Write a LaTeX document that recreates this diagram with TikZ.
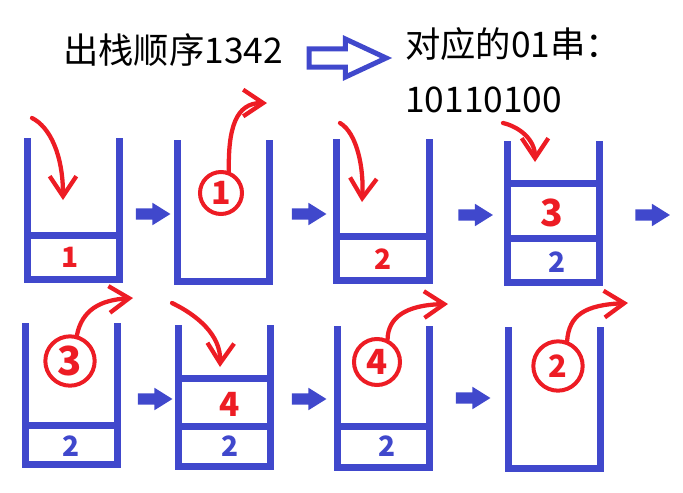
\documentclass[tikz,border=0pt]{standalone}
\usepackage{fontspec}
\setmainfont{Noto Sans CJK SC}
\usepackage{tikz}
\usetikzlibrary{shapes.arrows,arrows.meta}

\definecolor{stackblue}{RGB}{64,72,204}
\definecolor{penred}{RGB}{237,28,36}

\begin{document}
\begin{tikzpicture}[
    x=0.75pt, y=-0.75pt,
    wall/.style={line width=5.25pt, stackblue},
    title/.style={inner sep=0pt, anchor=base west, font=\fontsize{26.5}{30}\selectfont},
    digit/.style={inner sep=0pt, font=\fontsize{21}{24}\selectfont\bfseries},
    bigdigit/.style={inner sep=0pt, font=\fontsize{28}{30}\selectfont\bfseries},
    reddigit/.style={digit, penred},
    bluedigit/.style={digit, stackblue},
    ring/.style={circle, draw=penred, line width=3pt, text=penred, inner sep=0pt},
    pen/.style={penred, line width=3.2pt, line cap=round, line join=round,
        -{Straight Barb[length=15pt, width=20pt]}},
    push/.style={single arrow, fill=stackblue, inner sep=0pt, inner ysep=4.1pt,
        minimum height=26pt, single arrow head extend=4.1pt, single arrow tip angle=64},
    implies/.style={single arrow, draw=stackblue, line width=3.75pt, inner sep=0pt,
        inner ysep=4.9pt, minimum height=57.75pt, single arrow head extend=7.5pt,
        single arrow tip angle=50}
]
    \useasboundingbox (0,0) rectangle (683,493);

    % Heading: pop order and its 01 string
    \node[title] (order) at (63,63) {出栈顺序1342};
    \node[implies] (gives) at (338,58) {};
    \node[title] (caption) at (405,57) {对应的01串：};
    \node[title] (bits) at (405,112) {10110100};

    % First row of stacks
    \draw[wall] (27.5,138) |- (119.5,279) -- (119.5,138);
    \draw[wall] (27.5,235) -- (119.5,235);
    \node[reddigit] (s1a) at (70,257) {1};

    \draw[wall] (177.5,140) |- (269.5,281) -- (269.5,140);

    \draw[wall] (336.5,139) |- (429,280) -- (429,139);
    \draw[wall] (336.5,236) -- (429,236);
    \node[reddigit] (s3a) at (383,259) {2};

    \draw[wall] (507.5,141) |- (599.5,282.5) -- (599.5,141);
    \draw[wall] (507.5,183) -- (599.5,183);
    \draw[wall] (507.5,238) -- (599.5,238);
    \node[reddigit, bigdigit] (s4b) at (552,213) {3};
    \node[bluedigit] (s4a) at (557,262) {2};

    % Second row of stacks
    \draw[wall] (25.5,323) |- (117.5,464.5) -- (117.5,323);
    \draw[wall] (25.5,425) -- (117.5,425);
    \node[bluedigit] (s5a) at (71,446) {2};

    \draw[wall] (178.5,325) |- (270.5,466.5) -- (270.5,325);
    \draw[wall] (178.5,378.5) -- (270.5,378.5);
    \draw[wall] (178.5,426) -- (270.5,426);
    \node[reddigit, font=\fontsize{25}{28}\selectfont\bfseries] (s6b) at (230,404) {4};
    \node[bluedigit] (s6a) at (230,446) {2};

    \draw[wall] (337.5,326) |- (429.5,467.5) -- (429.5,326);
    \draw[wall] (337.5,426.5) -- (429.5,426.5);
    \node[bluedigit] (s7a) at (387,446) {2};

    \draw[wall] (508.5,327) |- (600.5,468.5) -- (600.5,327);

    % Steps between stacks
    \node[push] (p1) at (148.5,214) {};
    \node[push] (p2) at (304.5,214) {};
    \node[push] (p3) at (471,215) {};
    \node[push] (p4) at (648,215) {};
    \node[push] (p5) at (150.5,399) {};
    \node[push] (p6) at (304.5,399) {};
    \node[push] (p7) at (468.5,398) {};

    % Pushes - red arrows dropping in
    \coordinate (in1) at (32,118);
    \coordinate (drop1) at (63,200);
    \draw[pen] (in1) .. controls (50,127) and (63,155) .. (drop1);

    \coordinate (in2) at (340,123);
    \coordinate (drop2) at (362,202);
    \draw[pen] (in2) .. controls (357,133) and (364,168) .. (drop2);

    \coordinate (in3) at (503,123);
    \coordinate (drop3) at (535,162);
    \draw[pen] (in3) .. controls (520,127) and (535,140) .. (drop3);

    \coordinate (in4) at (172,303);
    \coordinate (drop4) at (220,367);
    \draw[pen] (in4) .. controls (197,315) and (221,335) .. (drop4);

    % Pops - circled number leaves the stack
    \node[ring, minimum size=31.5pt, font=\fontsize{24}{26}\selectfont\bfseries] (out1) at (221,193) {1};
    \coordinate (up1) at (267,103);
    \draw[pen] (out1.70) .. controls (228,128) and (236,103) .. (up1);

    \node[ring, minimum size=37pt, font=\fontsize{30}{32}\selectfont\bfseries] (out3) at (70,361) {3};
    \coordinate (up3) at (133,298);
    \draw[pen] (out3.75) .. controls (82,310) and (100,300) .. (up3);

    \node[ring, minimum size=34.5pt, font=\fontsize{26}{28}\selectfont\bfseries] (out4) at (377,362) {4};
    \coordinate (up4) at (448,304);
    \draw[pen] (out4.65) .. controls (388,318) and (405,305) .. (up4);

    \node[ring, minimum size=37pt, font=\fontsize{23}{26}\selectfont\bfseries] (out2) at (558,366) {2};
    \coordinate (up2) at (628,303);
    \draw[pen] (out2.70) .. controls (569,315) and (585,305) .. (up2);

\end{tikzpicture}
\end{document}
